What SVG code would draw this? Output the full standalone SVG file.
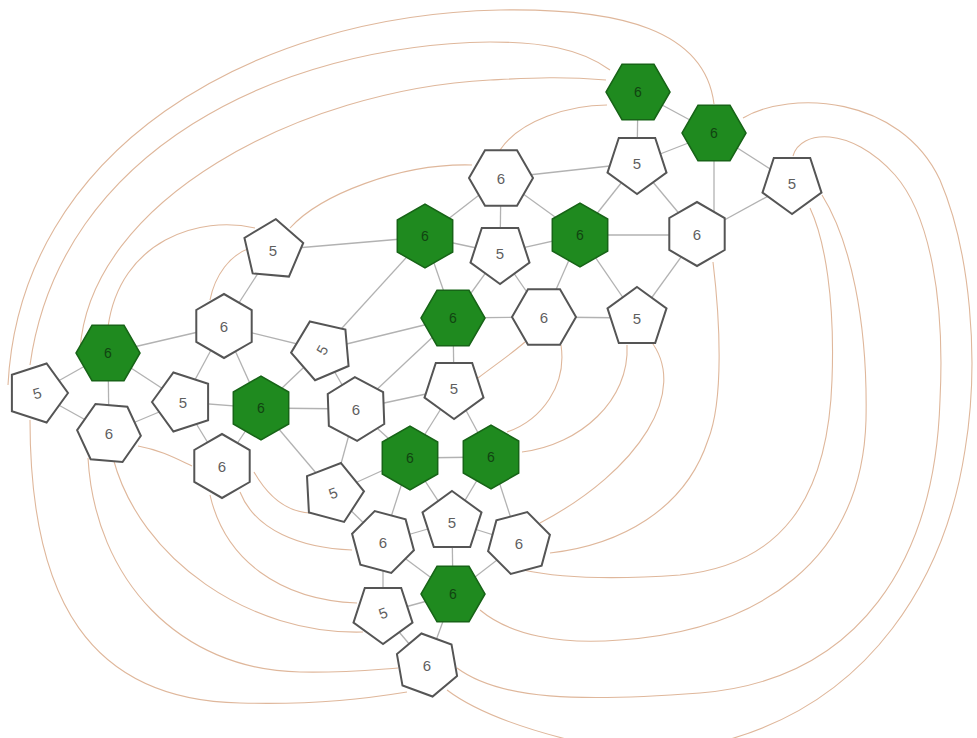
<svg xmlns="http://www.w3.org/2000/svg" xmlns:xlink="http://www.w3.org/1999/xlink" width="977" height="738" viewBox="0 0 977 738">
<style>
.bg{fill:#ffffff}
.arc{fill:none;stroke:#dfb79b;stroke-width:1.1}
.e{stroke:#b2b2b2;stroke-width:1.3}
.g{fill:#1f8a1f;stroke:#176417;stroke-width:1.5}
.w{fill:#ffffff;stroke:#555555;stroke-width:2}
.t{font-family:"Liberation Sans",Arial,sans-serif;font-size:15px;text-anchor:middle;dominant-baseline:central;fill:#5f5f5f}
.tg{font-family:"Liberation Sans",Arial,sans-serif;font-size:14px;text-anchor:middle;dominant-baseline:central;fill:#114411}
</style>
<defs>
<polygon id="hex" points="32,0 16,27.7 -16,27.7 -32,0 -16,-27.7 16,-27.7"/>
<polygon id="pent" points="0,-31 29.5,-9.6 18.2,25.1 -18.2,25.1 -29.5,-9.6"/>
</defs>
<rect class="bg" x="0" y="0" width="977" height="738"/>
<g id="connectors">
<g id="outer-arcs">
<path class="arc" d="M714,104 C705,30 620,8 500,10 C250,15 20,150 8,385"/>
<path class="arc" d="M610,70 C580,48 540,42 490,42 C280,45 60,150 30,365"/>
<path class="arc" d="M606,80 C560,76 530,78 490,80 C300,90 90,200 80,350"/>
<path class="arc" d="M500,150 C520,120 570,105 607,105"/>
<path class="arc" d="M290,228 C320,195 400,163 472,165"/>
<path class="arc" d="M255,228 C200,215 120,240 108,327"/>
<path class="arc" d="M210,300 C215,275 230,255 250,248"/>
<path class="arc" d="M30,420 C30,600 90,700 240,703 C320,705 370,698 407,692"/>
<path class="arc" d="M88,458 C95,580 180,670 300,672 C340,673 370,670 398,668"/>
<path class="arc" d="M113,458 C140,560 250,635 363,632"/>
<path class="arc" d="M210,495 C225,560 280,600 357,603"/>
<path class="arc" d="M240,492 C255,530 300,548 352,550"/>
<path class="arc" d="M254,472 C270,500 290,512 310,513"/>
<path class="arc" d="M138,446 C160,450 175,458 192,466"/>
<path class="arc" d="M447,690 C480,715 530,730 570,740"/>
<path class="arc" d="M743,118 C790,90 900,95 940,180 C970,250 980,360 965,450 C945,580 870,700 727,740"/>
<path class="arc" d="M793,156 C800,130 850,125 895,175 C930,215 945,300 940,400 C935,560 860,680 700,693 C580,702 500,700 457,668"/>
<path class="arc" d="M822,195 C850,240 868,320 866,420 C862,560 760,630 620,640 C560,645 510,635 480,610"/>
<path class="arc" d="M810,208 C825,240 835,300 832,380 C828,500 780,565 680,575 C610,580 560,578 523,570"/>
<path class="arc" d="M713,262 C720,320 724,400 708,440 C685,510 620,545 550,553"/>
<path class="arc" d="M650,340 C690,390 640,470 540,523"/>
<path class="arc" d="M627,345 C630,400 580,445 522,452"/>
<path class="arc" d="M561,345 C567,385 542,420 507,432"/>
<path class="arc" d="M478,378 C495,365 510,355 525,342"/>
</g>
<g id="edges">
<line class="e" x1="501" y1="178" x2="425" y2="237"/>
<line class="e" x1="501" y1="178" x2="500" y2="253"/>
<line class="e" x1="501" y1="178" x2="580" y2="235"/>
<line class="e" x1="501" y1="178" x2="637" y2="163"/>
<line class="e" x1="425" y1="237" x2="500" y2="253"/>
<line class="e" x1="425" y1="237" x2="453" y2="318"/>
<line class="e" x1="425" y1="237" x2="273" y2="250"/>
<line class="e" x1="425" y1="237" x2="322" y2="350"/>
<line class="e" x1="500" y1="253" x2="580" y2="235"/>
<line class="e" x1="500" y1="253" x2="453" y2="318"/>
<line class="e" x1="500" y1="253" x2="544" y2="317"/>
<line class="e" x1="580" y1="235" x2="637" y2="163"/>
<line class="e" x1="580" y1="235" x2="697" y2="235"/>
<line class="e" x1="580" y1="235" x2="544" y2="317"/>
<line class="e" x1="580" y1="235" x2="637" y2="318"/>
<line class="e" x1="697" y1="235" x2="637" y2="318"/>
<line class="e" x1="637" y1="163" x2="697" y2="235"/>
<line class="e" x1="453" y1="318" x2="544" y2="317"/>
<line class="e" x1="544" y1="317" x2="637" y2="318"/>
<line class="e" x1="637" y1="163" x2="714" y2="133"/>
<line class="e" x1="638" y1="92" x2="637" y2="163"/>
<line class="e" x1="638" y1="92" x2="714" y2="133"/>
<line class="e" x1="714" y1="133" x2="792" y2="183"/>
<line class="e" x1="714" y1="133" x2="714" y2="230"/>
<line class="e" x1="697" y1="235" x2="792" y2="183"/>
<line class="e" x1="273" y1="250" x2="224" y2="326"/>
<line class="e" x1="224" y1="326" x2="108" y2="353"/>
<line class="e" x1="224" y1="326" x2="183" y2="402"/>
<line class="e" x1="224" y1="326" x2="261" y2="408"/>
<line class="e" x1="224" y1="326" x2="322" y2="350"/>
<line class="e" x1="108" y1="353" x2="37" y2="393"/>
<line class="e" x1="108" y1="353" x2="109" y2="433"/>
<line class="e" x1="108" y1="353" x2="183" y2="402"/>
<line class="e" x1="37" y1="393" x2="109" y2="433"/>
<line class="e" x1="109" y1="433" x2="183" y2="402"/>
<line class="e" x1="183" y1="402" x2="261" y2="408"/>
<line class="e" x1="183" y1="402" x2="222" y2="466"/>
<line class="e" x1="261" y1="408" x2="222" y2="466"/>
<line class="e" x1="261" y1="408" x2="356" y2="409"/>
<line class="e" x1="261" y1="408" x2="322" y2="350"/>
<line class="e" x1="261" y1="408" x2="333" y2="493"/>
<line class="e" x1="322" y1="350" x2="356" y2="409"/>
<line class="e" x1="322" y1="350" x2="453" y2="318"/>
<line class="e" x1="356" y1="409" x2="453" y2="318"/>
<line class="e" x1="356" y1="409" x2="333" y2="493"/>
<line class="e" x1="454" y1="388" x2="453" y2="318"/>
<line class="e" x1="454" y1="388" x2="410" y2="458"/>
<line class="e" x1="454" y1="388" x2="491" y2="457"/>
<line class="e" x1="356" y1="409" x2="454" y2="388"/>
<line class="e" x1="356" y1="409" x2="410" y2="458"/>
<line class="e" x1="410" y1="458" x2="491" y2="457"/>
<line class="e" x1="410" y1="458" x2="333" y2="493"/>
<line class="e" x1="410" y1="458" x2="383" y2="542"/>
<line class="e" x1="410" y1="458" x2="452" y2="522"/>
<line class="e" x1="491" y1="457" x2="452" y2="522"/>
<line class="e" x1="491" y1="457" x2="519" y2="543"/>
<line class="e" x1="333" y1="493" x2="383" y2="542"/>
<line class="e" x1="383" y1="542" x2="452" y2="522"/>
<line class="e" x1="452" y1="522" x2="519" y2="543"/>
<line class="e" x1="452" y1="522" x2="453" y2="594"/>
<line class="e" x1="383" y1="542" x2="453" y2="594"/>
<line class="e" x1="519" y1="543" x2="453" y2="594"/>
<line class="e" x1="383" y1="542" x2="383" y2="613"/>
<line class="e" x1="383" y1="613" x2="453" y2="594"/>
<line class="e" x1="383" y1="613" x2="427" y2="665"/>
<line class="e" x1="453" y1="594" x2="427" y2="665"/>
</g>
</g>
<g id="G1" transform="translate(638,92)"><use xlink:href="#hex" class="g"/><text class="tg" x="0" y="0">6</text></g>
<g id="G2" transform="translate(714,133)"><use xlink:href="#hex" class="g"/><text class="tg" x="0" y="0">6</text></g>
<g id="G3" transform="translate(425,236)"><use xlink:href="#hex" class="g" transform="rotate(30)"/><text class="tg" x="0" y="0">6</text></g>
<g id="G4" transform="translate(580,235)"><use xlink:href="#hex" class="g" transform="rotate(30)"/><text class="tg" x="0" y="0">6</text></g>
<g id="G5" transform="translate(453,318)"><use xlink:href="#hex" class="g"/><text class="tg" x="0" y="0">6</text></g>
<g id="G6" transform="translate(108,353)"><use xlink:href="#hex" class="g"/><text class="tg" x="0" y="0">6</text></g>
<g id="G7" transform="translate(261,408)"><use xlink:href="#hex" class="g" transform="rotate(30)"/><text class="tg" x="0" y="0">6</text></g>
<g id="G8" transform="translate(410,458)"><use xlink:href="#hex" class="g" transform="rotate(30)"/><text class="tg" x="0" y="0">6</text></g>
<g id="G9" transform="translate(491,457)"><use xlink:href="#hex" class="g" transform="rotate(30)"/><text class="tg" x="0" y="0">6</text></g>
<g id="G10" transform="translate(453,594)"><use xlink:href="#hex" class="g"/><text class="tg" x="0" y="0">6</text></g>
<g id="H1" transform="translate(501,178)"><use xlink:href="#hex" class="w"/><text class="t" x="0" y="0">6</text></g>
<g id="H2" transform="translate(697,234)"><use xlink:href="#hex" class="w" transform="rotate(30)"/><text class="t" x="0" y="0">6</text></g>
<g id="H3" transform="translate(224,326)"><use xlink:href="#hex" class="w" transform="rotate(30)"/><text class="t" x="0" y="0">6</text></g>
<g id="H4" transform="translate(544,317)"><use xlink:href="#hex" class="w"/><text class="t" x="0" y="0">6</text></g>
<g id="H5" transform="translate(109,433)"><use xlink:href="#hex" class="w" transform="rotate(5)"/><text class="t" x="0" y="0">6</text></g>
<g id="H6" transform="translate(356,409)"><use xlink:href="#hex" class="w" transform="rotate(28)"/><text class="t" x="0" y="0">6</text></g>
<g id="H7" transform="translate(222,466)"><use xlink:href="#hex" class="w" transform="rotate(30)"/><text class="t" x="0" y="0">6</text></g>
<g id="H8" transform="translate(383,542)"><use xlink:href="#hex" class="w" transform="rotate(15)"/><text class="t" x="0" y="0">6</text></g>
<g id="H9" transform="translate(519,543)"><use xlink:href="#hex" class="w" transform="rotate(-15)"/><text class="t" x="0" y="0">6</text></g>
<g id="H10" transform="translate(427,665)"><use xlink:href="#hex" class="w" transform="rotate(20)"/><text class="t" x="0" y="0">6</text></g>
<g id="P1" transform="translate(637,163)"><use xlink:href="#pent" class="w" transform="rotate(180)"/><text class="t" x="0" y="0">5</text></g>
<g id="P2" transform="translate(792,183)"><use xlink:href="#pent" class="w" transform="rotate(180)"/><text class="t" x="0" y="0">5</text></g>
<g id="P3" transform="translate(273,250)"><use xlink:href="#pent" class="w" transform="rotate(5)"/><text class="t" x="0" y="0">5</text></g>
<g id="P4" transform="translate(500,253)"><use xlink:href="#pent" class="w" transform="rotate(180)"/><text class="t" x="0" y="0">5</text></g>
<g id="P5" transform="translate(637,318)"><use xlink:href="#pent" class="w"/><text class="t" x="0" y="0">5</text></g>
<g id="P6" transform="translate(322,350)"><use xlink:href="#pent" class="w" transform="rotate(-23)"/><text class="t" x="0" y="0" transform="rotate(-60)">5</text></g>
<g id="P7" transform="translate(37,393)"><use xlink:href="#pent" class="w" transform="rotate(90)"/><text class="t" x="0" y="0" transform="rotate(-15)">5</text></g>
<g id="P8" transform="translate(183,402)"><use xlink:href="#pent" class="w" transform="rotate(-90)"/><text class="t" x="0" y="0">5</text></g>
<g id="P9" transform="translate(454,388)"><use xlink:href="#pent" class="w" transform="rotate(180)"/><text class="t" x="0" y="0">5</text></g>
<g id="P10" transform="translate(333,493)"><use xlink:href="#pent" class="w" transform="rotate(15)"/><text class="t" x="0" y="0" transform="rotate(-20)">5</text></g>
<g id="P11" transform="translate(452,522)"><use xlink:href="#pent" class="w"/><text class="t" x="0" y="0">5</text></g>
<g id="P12" transform="translate(383,613)"><use xlink:href="#pent" class="w" transform="rotate(180)"/><text class="t" x="0" y="0" transform="rotate(-20)">5</text></g>
</svg>
